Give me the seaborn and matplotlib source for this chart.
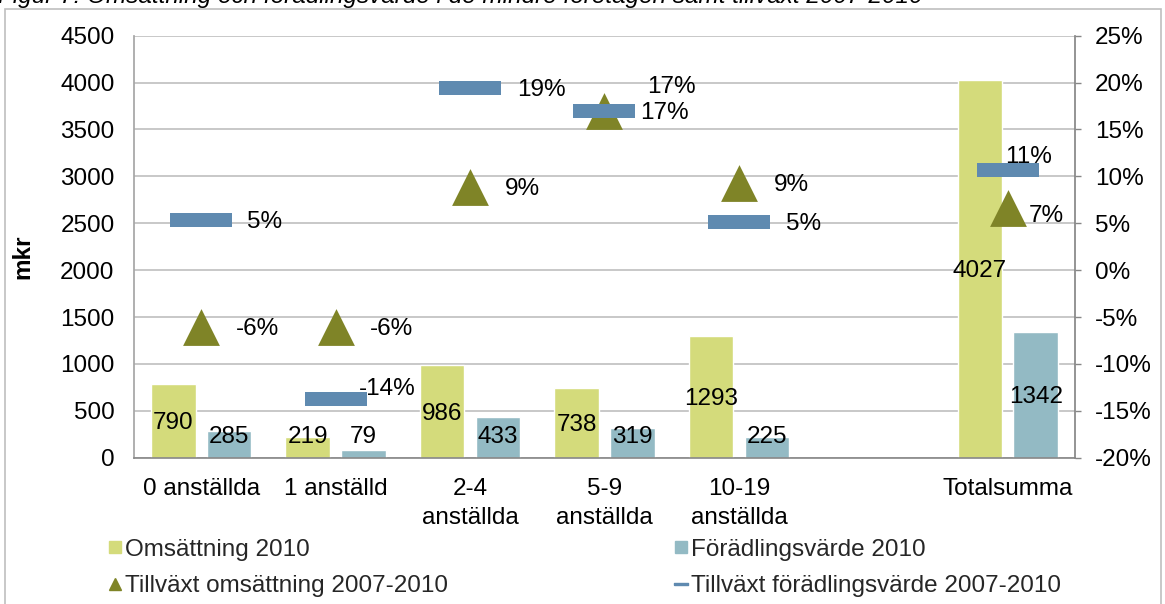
import numpy as np
import pandas as pd
import seaborn as sns
import matplotlib.pyplot as plt
from matplotlib.lines import Line2D
from matplotlib.patches import Rectangle
from matplotlib.ticker import FuncFormatter, MultipleLocator

# Data
kategorier = ["0 anställda", "1 anställd", "2-4\nanställda", "5-9\nanställda",
              "10-19\nanställda", " ", "Totalsumma"]
omsattning_2010 = [790, 219, 986, 738, 1293, np.nan, 4027]
foradling_2010 = [285, 79, 433, 319, 225, np.nan, 1342]
tillvaxt_oms = [-6.1, -6.1, 8.9, 17.0, 9.3, np.nan, 6.6]
tillvaxt_fv = [5.3, -13.7, 19.4, 17.0, 5.1, np.nan, 10.7]

serie_bar = ["Omsättning 2010", "Förädlingsvärde 2010"]
serie_tillv = ["Tillväxt omsättning 2007-2010", "Tillväxt förädlingsvärde 2007-2010"]
titel = "Figur 7: Omsättning och förädlingsvärde i de mindre företagen samt tillväxt 2007-2010"

c_oms = "#D4DB7B"
c_fv = "#93BAC4"
c_tri = "#7F8427"
c_dash = "#5F8AB0"
FS = 17.5

df_bar = pd.DataFrame({
    "kategori": kategorier * 2,
    "serie": [serie_bar[0]] * len(kategorier) + [serie_bar[1]] * len(kategorier),
    "mkr": omsattning_2010 + foradling_2010,
}).dropna()
df_oms = pd.DataFrame({"kategori": kategorier, "tillvaxt": tillvaxt_oms}).dropna()
df_fv = pd.DataFrame({"kategori": kategorier, "tillvaxt": tillvaxt_fv}).dropna()

sns.set_theme(style="white")
plt.rcParams['font.family'] = ['Liberation Sans', 'DejaVu Sans']

W, H = 1165, 604
fig = plt.figure(figsize=(W / 100, H / 100), dpi=100)
left, right, top, bottom = 134, 1075, 35.6, 457.7
ax = fig.add_axes([left / W, 1 - bottom / H, (right - left) / W, (bottom - top) / H])

sns.barplot(data=df_bar, x="kategori", y="mkr", hue="serie", order=kategorier,
            hue_order=serie_bar, palette=[c_oms, c_fv], saturation=1,
            width=0.83, gap=0.2, legend=False, ax=ax)

ax.set_xlim(-0.5, len(kategorier) - 0.5)
ax.set_ylim(0, 4500)
ax.yaxis.set_major_locator(MultipleLocator(500))
ax.set_axisbelow(True)
ax.grid(axis="y", color="#BFBFBF", lw=1.2)
ax.grid(axis="x", visible=False)

# bar value labels (centred in the bar, kept above the axis for short bars)
for cont in ax.containers:
    for p in cont.patches:
        h = p.get_height()
        if not np.isfinite(h) or h == 0:
            continue
        ax.annotate(f"{h:.0f}", xy=(p.get_x() + p.get_width() / 2, max(h / 2, 240)),
                    xytext=(0, -1.5), textcoords="offset points",
                    ha="center", va="center", fontsize=FS, color="black")

# growth markers on secondary axis
ax2 = ax.twinx()
dash = [(-1, -0.21), (1, -0.21), (1, 0.21), (-1, 0.21), (-1, -0.21)]
sns.stripplot(data=df_oms, x="kategori", y="tillvaxt", order=kategorier, jitter=False,
              marker="^", size=26.5, color=c_tri, linewidth=0, ax=ax2, zorder=3)
sns.stripplot(data=df_fv, x="kategori", y="tillvaxt", order=kategorier, jitter=False,
              marker=dash, size=44.6, color=c_dash, linewidth=0, ax=ax2, zorder=4)
ax2.set_xlim(-0.5, len(kategorier) - 0.5)
ax2.set_ylim(-20, 25)
ax2.yaxis.set_major_locator(MultipleLocator(5))
ax2.yaxis.set_major_formatter(FuncFormatter(lambda v, _: f"{v:.0f}%"))
ax2.grid(False)
ax2.set_ylabel("")
ax2.set_xlabel("")

# percent labels (offsets in points, some moved by hand in the original)
off_oms = [(25, 0), (25, 0), (25, 0), (31, 18.7), (25, 0), None, (15, -4.3)]
off_fv = [(33, 0), (17, 8.6), (34, 0), (26, 0), (34, 0), None, (-2, 10.8)]
for vals, offs in ((tillvaxt_oms, off_oms), (tillvaxt_fv, off_fv)):
    for i, v in enumerate(vals):
        if not np.isfinite(v):
            continue
        ax2.annotate(f"{round(v):.0f}%", xy=(i, v),
                     xytext=(offs[i][0], offs[i][1] - 1.5),
                     textcoords="offset points", ha="left", va="center",
                     fontsize=FS, color="black", zorder=5)

# axes styling
for a in (ax, ax2):
    for s in a.spines.values():
        s.set_visible(False)
ax.spines["left"].set_visible(True)
ax.spines["left"].set_color("#A6A6A6")
ax.spines["bottom"].set_visible(True)
ax.spines["bottom"].set_color("#868686")
ax.spines["bottom"].set_linewidth(1.2)
ax2.spines["right"].set_visible(True)
ax2.spines["right"].set_color("#868686")

ax.tick_params(axis="y", length=0, pad=14, labelsize=FS, labelcolor="black")
ax.tick_params(axis="x", length=0, pad=14.5, labelsize=FS, labelcolor="black")
ax2.tick_params(axis="y", right=True, length=4.5, width=1, color="#868686", pad=10,
                labelsize=FS, labelcolor="black")
for t in ax.get_xticklabels():
    t.set_linespacing(1.45)

ax.set_xlabel("")
ax.set_ylabel("mkr", fontsize=FS, fontweight="bold", color="black")
ax.yaxis.set_label_coords((34 - left) / (right - left), (bottom - 256.7) / (bottom - top))

# legend, two columns placed as in the reference
handles = [
    Line2D([], [], ls="none", marker="s", markersize=8.6, color=c_oms),
    Line2D([], [], ls="none", marker="s", markersize=8.6, color=c_fv),
    Line2D([], [], ls="none", marker="^", markersize=9, color=c_tri),
    Line2D([], [], ls="none", marker=dash, markersize=9.5, color=c_dash),
]
leg_kw = dict(frameon=False, fontsize=FS, handlelength=0.55, handletextpad=0.15,
              labelspacing=0.6, borderpad=0, borderaxespad=0, loc="center left")
fig.legend([handles[0], handles[2]], [serie_bar[0], serie_tillv[0]],
           bbox_to_anchor=(108 / W, 1 - 568 / H), **leg_kw)
fig.legend([handles[1], handles[3]], [serie_bar[1], serie_tillv[1]],
           bbox_to_anchor=(674 / W, 1 - 568 / H), **leg_kw)

# chart frame and clipped title
fig.patches.append(Rectangle((5 / W, -0.05), (1161 - 5) / W, 1.05 - 9 / H,
                             transform=fig.transFigure, fill=False,
                             edgecolor="#BFBFBF", lw=1.2))
fig.text(-2 / W, 1 - 3 / H, titel, fontsize=FS, fontstyle="italic",
         ha="left", va="baseline", color="black")

fig.savefig("out.png", dpi=100)
